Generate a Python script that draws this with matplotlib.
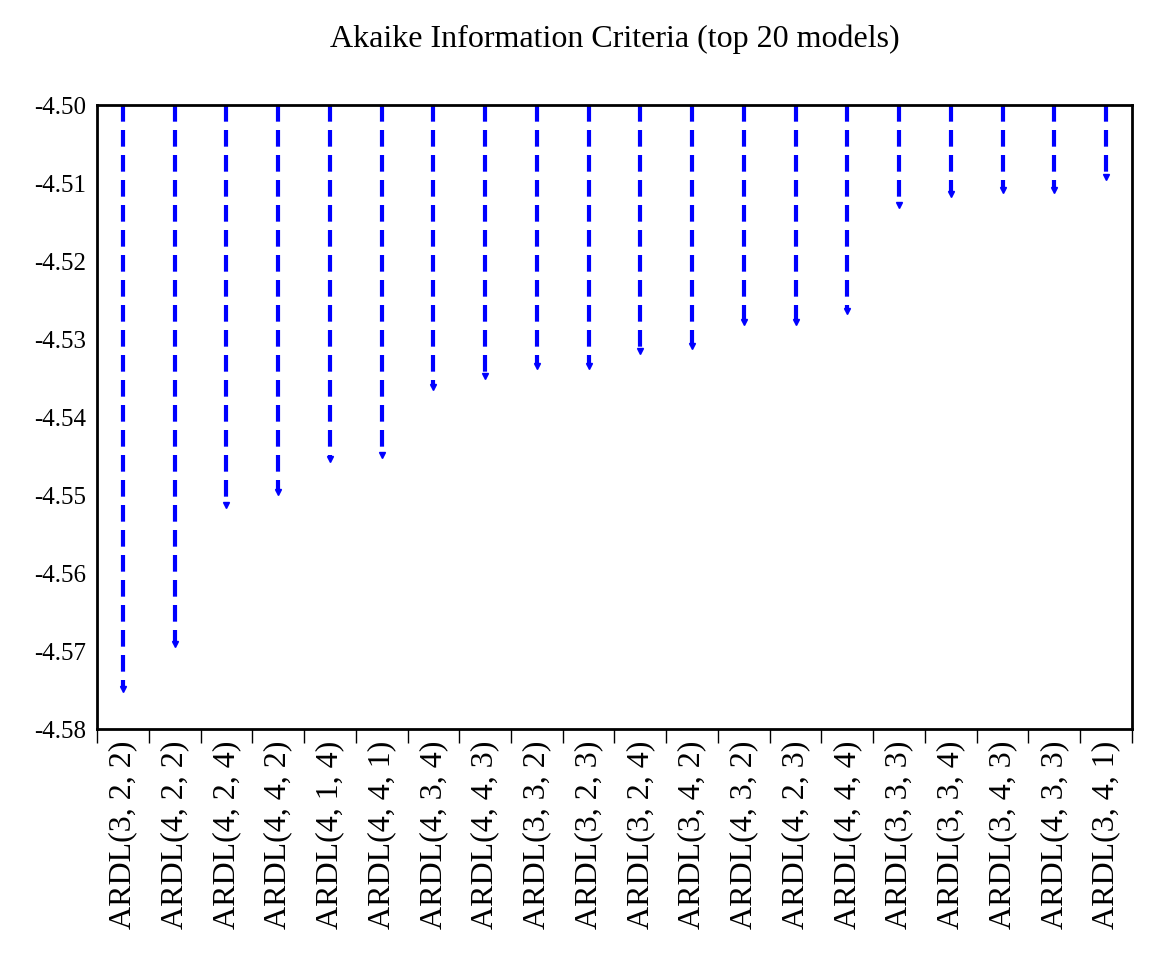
import numpy as np
import matplotlib
matplotlib.use("Agg")
import matplotlib.pyplot as plt

models = ["ARDL(3, 2, 2)", "ARDL(4, 2, 2)", "ARDL(4, 2, 4)", "ARDL(4, 4, 2)", "ARDL(4, 1, 4)",
          "ARDL(4, 4, 1)", "ARDL(4, 3, 4)", "ARDL(4, 4, 3)", "ARDL(3, 3, 2)", "ARDL(3, 2, 3)",
          "ARDL(3, 2, 4)", "ARDL(3, 4, 2)", "ARDL(4, 3, 2)", "ARDL(4, 2, 3)", "ARDL(4, 4, 4)",
          "ARDL(3, 3, 3)", "ARDL(3, 3, 4)", "ARDL(3, 4, 3)", "ARDL(4, 3, 3)", "ARDL(3, 4, 1)"]
aic = [-4.5748, -4.5691, -4.5512, -4.5496, -4.5453, -4.5449, -4.5361, -4.5347, -4.5334, -4.5334,
       -4.5315, -4.5309, -4.5278, -4.5278, -4.5264, -4.5128, -4.5114, -4.5108, -4.5108, -4.5092]

plt.rcParams["font.family"] = ["Liberation Serif", "DejaVu Serif"]
fig = plt.figure(figsize=(11.58, 9.57), dpi=100)
ax = fig.add_axes([0.0838, 0.238, 0.8937, 0.652])

x = np.arange(len(models))
ax.vlines(x, -4.50, aic, colors="blue", linestyles=(0, (4, 2)), lw=3)
ax.plot(x, aic, "v", color="blue", ms=5, ls="none")

ax.set_xlim(-0.5, len(models) - 0.5)
ax.set_ylim(-4.58, -4.50)
ax.set_yticks(np.arange(-4.58, -4.4999, 0.01))
ax.set_yticklabels([f"{v:.2f}" for v in np.arange(-4.58, -4.4999, 0.01)], fontsize=18)
ax.set_xticks(x)
ax.set_xticklabels(models, rotation=90, fontsize=23)
ax.tick_params(axis="x", length=0, pad=8)
ax.set_xticks(np.arange(-0.5, len(models)), minor=True)
ax.tick_params(axis="x", which="minor", length=10, width=1)
ax.tick_params(axis="y", direction="in", length=0, pad=8)
for s in ax.spines.values():
    s.set_linewidth(2)
ax.set_title("Akaike Information Criteria (top 20 models)", fontsize=23, pad=42)

fig.savefig("out.png", dpi=100)
